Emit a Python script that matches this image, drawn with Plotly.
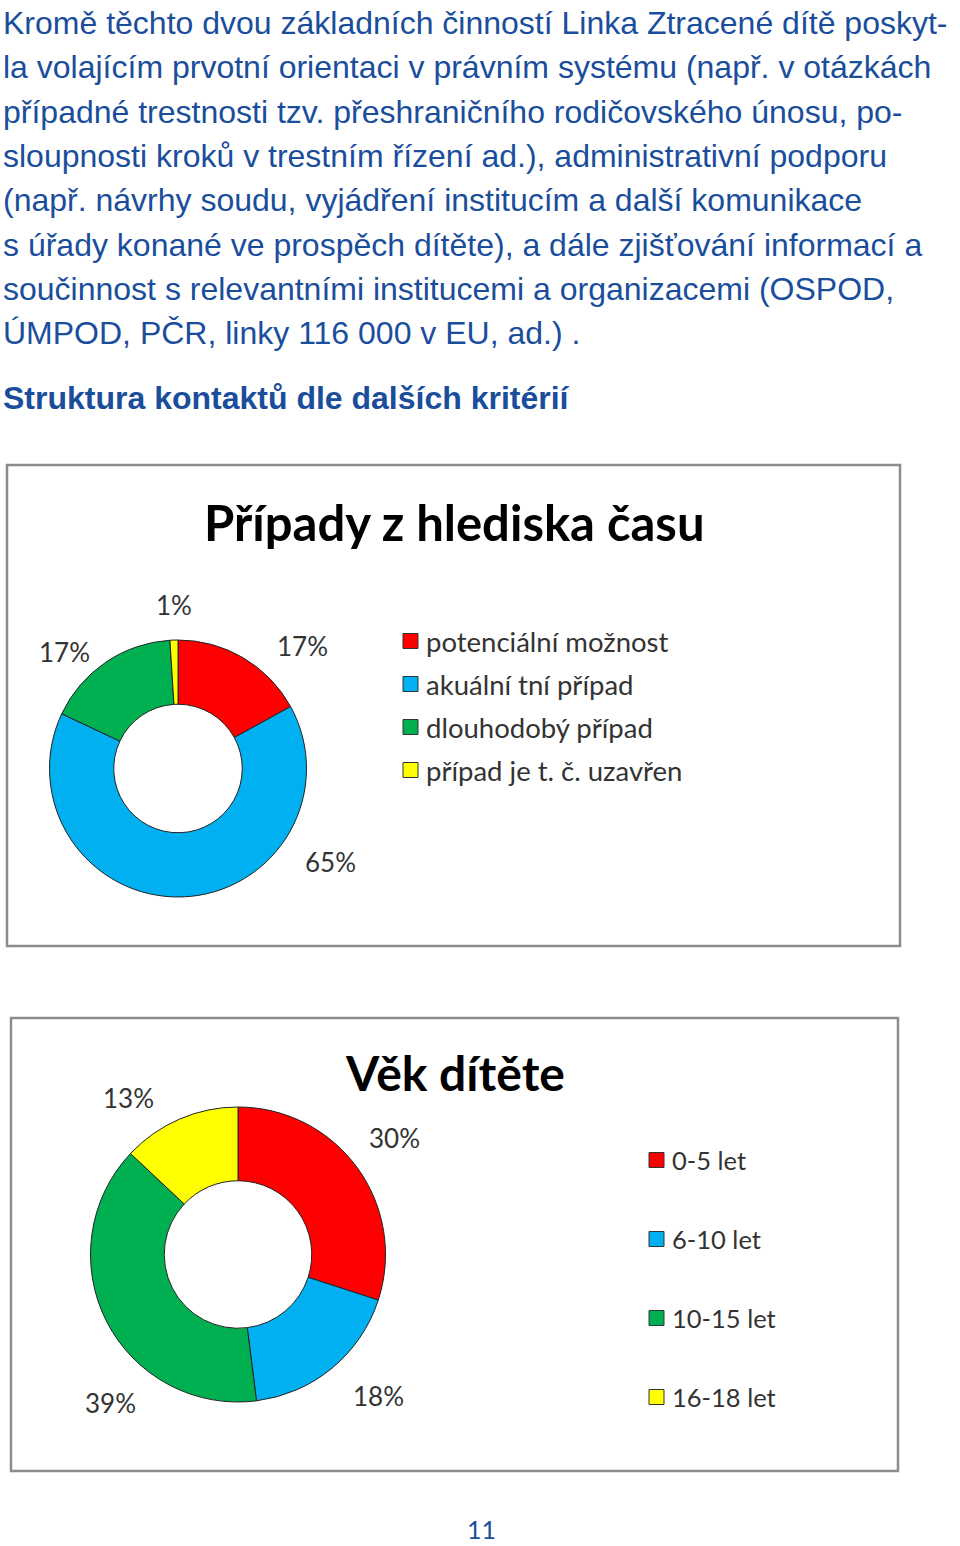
import plotly.graph_objects as go

W, H = 960, 1546

# ---- data ----
body_lines = [
    "Kromě těchto dvou základních činností Linka Ztracené dítě poskyt-",
    "la volajícím prvotní orientaci v právním systému (např. v otázkách",
    "případné trestnosti tzv. přeshraničního rodičovského únosu, po-",
    "sloupnosti kroků v trestním řízení ad.), administrativní podporu",
    "(např. návrhy soudu, vyjádření institucím a další komunikace",
    "s úřady konané ve prospěch dítěte), a dále zjišťování informací a",
    "součinnost s relevantními institucemi a organizacemi (OSPOD,",
    "ÚMPOD, PČR, linky 116 000 v EU, ad.) .",
]
heading = "Struktura kontaktů dle dalších kritérií"
page_number = "11"

title1 = "Případy z hlediska času"
labels1 = ["potenciální možnost", "akuální tní případ", "dlouhodobý případ", "případ je t. č. uzavřen"]
values1 = [17, 65, 17, 1]

title2 = "Věk dítěte"
labels2 = ["0-5 let", "6-10 let", "10-15 let", "16-18 let"]
values2 = [30, 18, 39, 13]

colors = ["#FF0000", "#00B0F0", "#00B050", "#FFFF00"]

# ---- helpers (pixel -> paper) ----
def px(x):
    return x / W

def py(y):
    return 1 - y / H

BLUE = "#1A4E9C"
BODY_FONT = "Liberation Sans, Arial, sans-serif"
CHART_FONT = "Lato, Carlito, Calibri, sans-serif"

fig = go.Figure()

annotations = []
shapes = []

# body text
for i, line in enumerate(body_lines):
    annotations.append(dict(
        x=px(1), y=py(23 + i * 44.3), xref="paper", yref="paper",
        xanchor="left", yanchor="middle", showarrow=False,
        text=line, font=dict(family=BODY_FONT, size=32, color=BLUE)))
annotations.append(dict(
    x=px(1), y=py(398), xref="paper", yref="paper",
    xanchor="left", yanchor="middle", showarrow=False,
    text="<b>" + heading + "</b>", font=dict(family=BODY_FONT, size=32, color=BLUE)))

# page number
annotations.append(dict(
    x=px(481), y=py(1529), xref="paper", yref="paper",
    xanchor="center", yanchor="middle", showarrow=False,
    text=page_number, font=dict(family=CHART_FONT, size=25, color=BLUE)))


def add_chart(box, title, title_xy, title_size, labels, values, center, radius,
              label_pos, legend_xy, legend_step, legend_size):
    x0, y0, x1, y1 = box
    shapes.append(dict(type="rect", xref="paper", yref="paper",
                       x0=px(x0), x1=px(x1), y0=py(y1), y1=py(y0),
                       line=dict(color="#8C8C8C", width=2.5), fillcolor="white",
                       layer="below"))
    annotations.append(dict(
        x=px(title_xy[0]), y=py(title_xy[1]), xref="paper", yref="paper",
        xanchor="center", yanchor="middle", showarrow=False,
        text="<b>" + title + "</b>", font=dict(family=CHART_FONT, size=title_size, color="black")))
    cx, cy = center
    fig.add_trace(go.Pie(
        labels=labels, values=values, hole=0.5, sort=False,
        direction="clockwise", rotation=0,
        marker=dict(colors=colors, line=dict(color="#222222", width=1)),
        textinfo="none", hoverinfo="label+percent", showlegend=False,
        domain=dict(x=[px(cx - radius), px(cx + radius)],
                    y=[py(cy + radius), py(cy - radius)])))
    total = sum(values)
    for v, (lx, ly) in zip(values, label_pos):
        annotations.append(dict(
            x=px(lx), y=py(ly), xref="paper", yref="paper",
            xanchor="center", yanchor="middle", showarrow=False,
            text=f"{round(100 * v / total)}%",
            font=dict(family=CHART_FONT, size=26, color="#333333")))
    lx, ly = legend_xy
    for i, (lab, col) in enumerate(zip(labels, colors)):
        yy = ly + i * legend_step
        shapes.append(dict(type="rect", xref="paper", yref="paper",
                           x0=px(lx), x1=px(lx + 15), y0=py(yy + 7.5), y1=py(yy - 7.5),
                           line=dict(color="#333333", width=1), fillcolor=col))
        annotations.append(dict(
            x=px(lx + 21), y=py(yy), xref="paper", yref="paper",
            xanchor="left", yanchor="middle", showarrow=False,
            text=lab, font=dict(family=CHART_FONT, size=legend_size, color="#333333")))


add_chart(box=(7, 465, 900, 946), title=title1, title_xy=(454, 522), title_size=49,
          labels=labels1, values=values1, center=(178, 768.5), radius=128.5,
          label_pos=[(302, 646), (330, 862), (64, 652), (174, 605)],
          legend_xy=(403, 641), legend_step=43, legend_size=27.5)

add_chart(box=(11, 1018, 898, 1471), title=title2, title_xy=(455, 1072), title_size=48,
          labels=labels2, values=values2, center=(238, 1254.5), radius=147.5,
          label_pos=[(394, 1138), (378, 1396), (110, 1403), (128, 1098)],
          legend_xy=(649, 1160), legend_step=79, legend_size=25.5)

fig.update_layout(
    width=W, height=H, margin=dict(l=0, r=0, t=0, b=0),
    paper_bgcolor="white", plot_bgcolor="white",
    annotations=annotations, shapes=shapes, showlegend=False,
)

fig.write_html("out.html")
